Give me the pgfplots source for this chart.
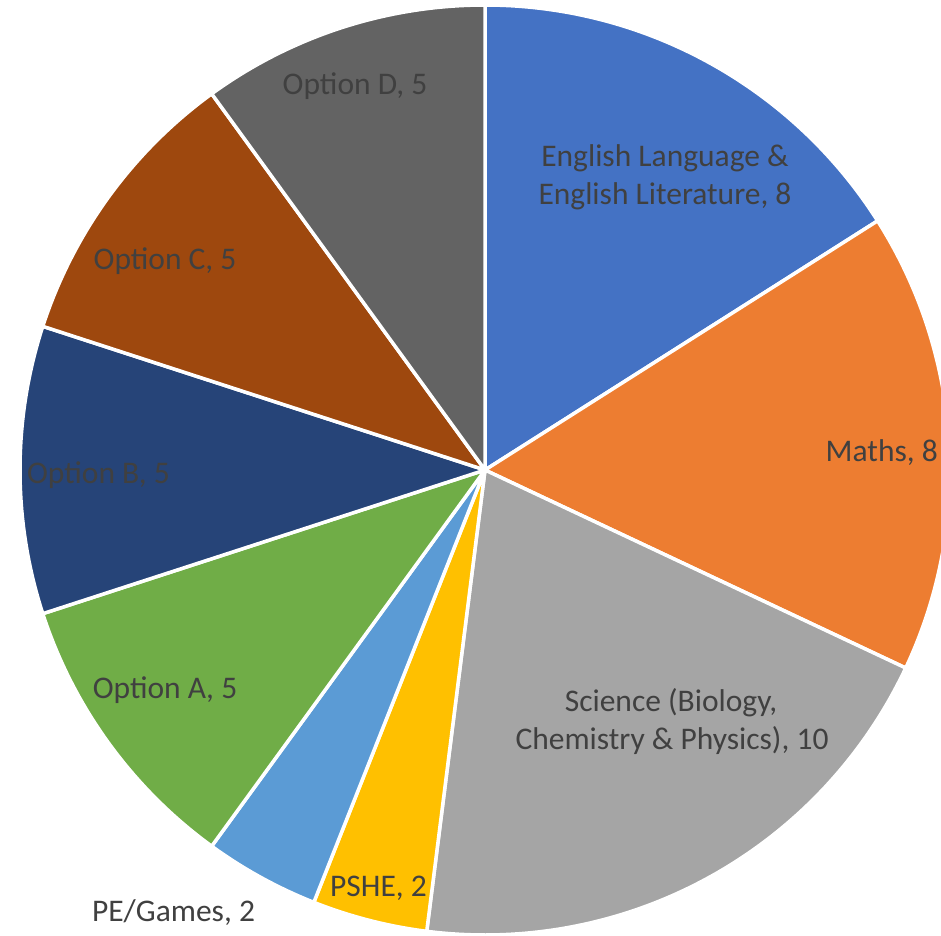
\documentclass[border=0pt]{standalone}
\usepackage{pgfplots}
\pgfplotsset{compat=1.18}
\usepackage{fontspec}
\setmainfont{Carlito}
\definecolor{cEng}{HTML}{4472C4}
\definecolor{cMath}{HTML}{ED7D31}
\definecolor{cSci}{HTML}{A5A5A5}
\definecolor{cPSHE}{HTML}{FFC000}
\definecolor{cPE}{HTML}{5B9BD5}
\definecolor{cOA}{HTML}{70AD47}
\definecolor{cOB}{HTML}{264478}
\definecolor{cOC}{HTML}{9E480E}
\definecolor{cOD}{HTML}{636363}
\definecolor{lbl}{HTML}{404040}
\tikzset{lb/.style={font=\fontsize{31.5bp}{38bp}\selectfont,text=lbl,inner sep=0pt}}
\begin{document}
\begin{tikzpicture}
\begin{axis}[width=941bp,height=936bp,scale only axis,
  xmin=0,xmax=941,ymin=0,ymax=936,y dir=reverse,hide axis,clip=true]
\def\cx{485}\def\cy{470}\def\r{465}
\def\ang{90}
% hours per subject (total 50)
\pgfplotsforeachungrouped \v/\c in {8/cEng,8/cMath,10/cSci,2/cPSHE,2/cPE,5/cOA,5/cOB,5/cOC,5/cOD}{
  \pgfmathsetmacro{\angend}{\ang-360/50*\v}
  \edef\temp{\noexpand\addplot[fill=\c,draw=white,line width=3.5bp,line join=round,domain=\angend:\ang,samples=90,variable=\noexpand\t] ({\cx+\r*cos(\noexpand\t)},{\cy-\r*sin(\noexpand\t)}) -- (axis cs:\cx,\cy) -- cycle;}
  \temp
  \global\let\ang\angend
}
\node[lb,anchor=base] at (axis cs:665,167) {English Language \&};
\node[lb,anchor=base] at (axis cs:665,205) {English Literature, 8};
\node[lb,anchor=base east] at (axis cs:938,461) {Maths, 8};
\node[lb,anchor=base] at (axis cs:671,711) {Science (Biology,};
\node[lb,anchor=base] at (axis cs:672,749) {Chemistry \& Physics), 10};
\node[lb,anchor=base] at (axis cs:378.5,896) {PSHE, 2};
\node[lb,anchor=base] at (axis cs:173.5,921) {PE/Games, 2};
\node[lb,anchor=base] at (axis cs:165,698) {Option A, 5};
\node[lb,anchor=base] at (axis cs:98.5,483) {Option B, 5};
\node[lb,anchor=base] at (axis cs:165,269) {Option C, 5};
\node[lb,anchor=base] at (axis cs:355,95) {Option D, 5};
\end{axis}
\pgfresetboundingbox
\path (current axis.south west) rectangle (current axis.north east);
\end{tikzpicture}
\end{document}
